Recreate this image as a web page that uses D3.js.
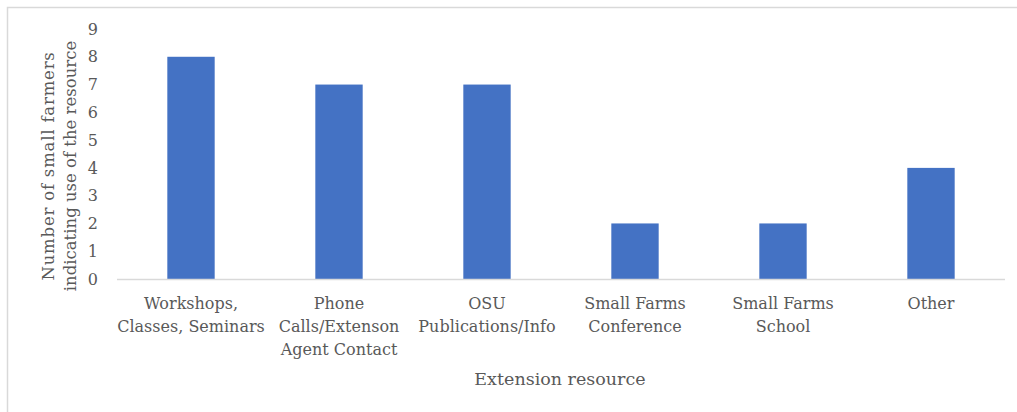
<!DOCTYPE html>
<html>
<head>
<meta charset="utf-8">
<script src="https://cdn.jsdelivr.net/npm/d3@7"></script>
<style>
  html, body { margin: 0; padding: 0; background: #fff; }
  svg { display: block; }
  text { font-family: "DejaVu Serif", "Liberation Serif", serif; fill: #595959; }
</style>
</head>
<body>
<script>
// Extension resources used by small farmers
const categories = [
  ["Workshops,", "Classes, Seminars"],
  ["Phone", "Calls/Extenson", "Agent Contact"],
  ["OSU", "Publications/Info"],
  ["Small Farms", "Conference"],
  ["Small Farms", "School"],
  ["Other"]
];
const counts = [8, 7, 7, 2, 2, 4];
const yTicks = [0, 1, 2, 3, 4, 5, 6, 7, 8, 9];
const yTitle = ["Number of small farmers", "indicating use of the resource"];
const xTitle = "Extension resource";

const W = 1017, H = 412;
const m = { left: 117, right: 12, top: 29, bottom: 133 };

const svg = d3.select("body").append("svg").attr("width", W).attr("height", H);

// chart frame
svg.append("rect")
  .attr("x", 7.5).attr("y", 7.5)
  .attr("width", W + 10).attr("height", H + 10)
  .attr("fill", "none").attr("stroke", "#d9d9d9").attr("stroke-width", 1.5);

const keys = categories.map((c, i) => i);
const x = d3.scaleBand().domain(keys).range([m.left, W - m.right]).paddingInner(0.68).paddingOuter(0.34);
const y = d3.scaleLinear().domain([0, 9]).range([H - m.bottom, m.top]);

// bars
svg.append("g").selectAll("rect").data(counts).join("rect")
  .attr("x", (d, i) => x(i))
  .attr("y", d => y(d))
  .attr("width", x.bandwidth())
  .attr("height", d => y(0) - y(d))
  .attr("fill", "#4472c4");

// y axis (labels only)
const yAxis = svg.append("g")
  .attr("transform", `translate(${m.left},0)`)
  .call(d3.axisLeft(y).tickValues(yTicks).tickSize(0).tickPadding(19));
yAxis.select(".domain").remove();
yAxis.selectAll("text").attr("font-size", 16).style("font-family", "DejaVu Serif, serif").attr("fill", "#595959");

// x axis baseline
svg.append("line")
  .attr("x1", m.left).attr("x2", W - m.right)
  .attr("y1", y(0) + 0.5).attr("y2", y(0) + 0.5)
  .attr("stroke", "#d9d9d9").attr("stroke-width", 1.5);

// category labels
const xAxis = svg.append("g")
  .attr("transform", `translate(0,${y(0)})`)
  .call(d3.axisBottom(x).tickSize(0).tickFormat(() => ""));
xAxis.select(".domain").remove();
xAxis.selectAll(".tick").each(function (d) {
  const t = d3.select(this).select("text")
    .attr("y", 0).attr("dy", null)
    .attr("font-size", 16).attr("fill", "#595959")
    .attr("text-anchor", "middle");
  categories[d].forEach((line, j) => {
    t.append("tspan").attr("x", 0).attr("y", 30 + j * 23).text(line);
  });
});

// axis titles
svg.append("text")
  .attr("x", 560).attr("y", 385)
  .attr("text-anchor", "middle").attr("font-size", 17.5)
  .text(xTitle);

const yt = svg.append("text")
  .attr("transform", `translate(54,166) rotate(-90)`)
  .attr("text-anchor", "middle").attr("font-size", 16.5);
yTitle.forEach((line, j) => {
  yt.append("tspan").attr("x", 0).attr("y", j * 22)
    .attr("letter-spacing", j === 0 ? 0.8 : 0)
    .text(line);
});
</script>
</body>
</html>
